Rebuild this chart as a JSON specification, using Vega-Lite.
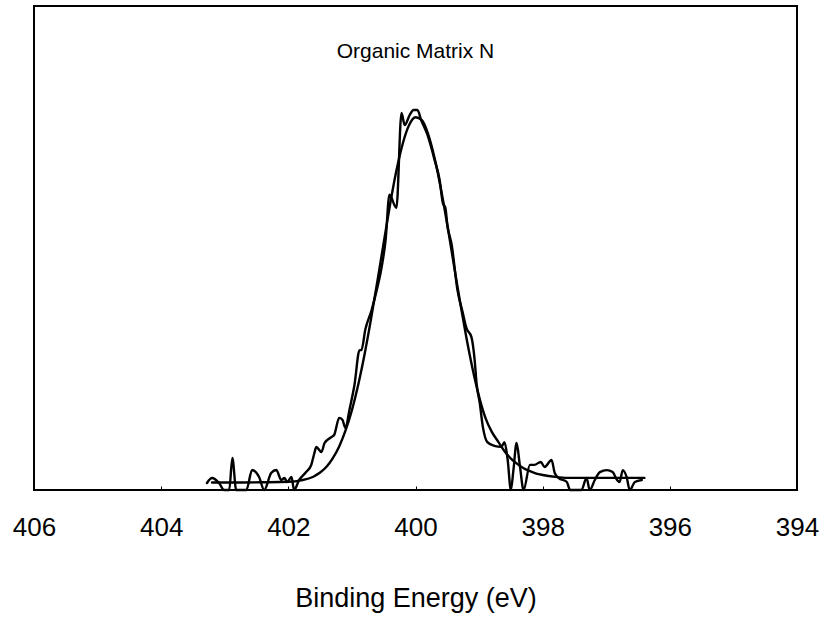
{
  "$schema": "https://vega.github.io/schema/vega-lite/v6.json",
  "width": 763,
  "height": 484,
  "autosize": {"type": "none"},
  "padding": {"left": 34, "top": 6, "right": 28, "bottom": 137},
  "background": "white",
  "config": {"view": {"stroke": "black", "strokeWidth": 2}, "font": "Liberation Sans"},
  "datasets": {
    "fit": [
      {"energy": 403.2, "intensity": 1.55}, {"energy": 402.8, "intensity": 1.55}, {"energy": 402.4, "intensity": 1.6},
      {"energy": 402.0, "intensity": 1.7}, {"energy": 401.8, "intensity": 2.0}, {"energy": 401.6, "intensity": 2.8},
      {"energy": 401.5, "intensity": 3.6}, {"energy": 401.4, "intensity": 4.8}, {"energy": 401.3, "intensity": 6.6},
      {"energy": 401.2, "intensity": 9.0}, {"energy": 401.1, "intensity": 12.3}, {"energy": 401.0, "intensity": 16.5},
      {"energy": 400.9, "intensity": 21.8}, {"energy": 400.8, "intensity": 28.1}, {"energy": 400.7, "intensity": 35.3},
      {"energy": 400.6, "intensity": 43.1}, {"energy": 400.5, "intensity": 51.1}, {"energy": 400.4, "intensity": 59.0},
      {"energy": 400.3, "intensity": 66.0}, {"energy": 400.2, "intensity": 71.6}, {"energy": 400.1, "intensity": 75.4},
      {"energy": 400.0, "intensity": 77.0}, {"energy": 399.9, "intensity": 76.4}, {"energy": 399.8, "intensity": 73.5},
      {"energy": 399.7, "intensity": 68.6}, {"energy": 399.6, "intensity": 62.2}, {"energy": 399.5, "intensity": 54.8},
      {"energy": 399.4, "intensity": 46.8}, {"energy": 399.3, "intensity": 38.9}, {"energy": 399.2, "intensity": 31.5},
      {"energy": 399.1, "intensity": 24.9}, {"energy": 399.0, "intensity": 19.3}, {"energy": 398.9, "intensity": 14.9},
      {"energy": 398.8, "intensity": 12.0}, {"energy": 398.7, "intensity": 10.0}, {"energy": 398.6, "intensity": 8.0},
      {"energy": 398.5, "intensity": 6.5}, {"energy": 398.4, "intensity": 5.4}, {"energy": 398.3, "intensity": 4.5},
      {"energy": 398.2, "intensity": 3.9}, {"energy": 398.1, "intensity": 3.4}, {"energy": 398.0, "intensity": 3.1},
      {"energy": 397.8, "intensity": 2.7}, {"energy": 397.6, "intensity": 2.5}, {"energy": 396.4, "intensity": 2.5}
    ],
    "measured": [
      {"energy": 403.28, "intensity": 1.45}, {"energy": 403.2, "intensity": 2.48}, {"energy": 403.09, "intensity": 1.45},
      {"energy": 403.01, "intensity": 0}, {"energy": 402.93, "intensity": 0}, {"energy": 402.88, "intensity": 6.6},
      {"energy": 402.82, "intensity": 0}, {"energy": 402.66, "intensity": 0}, {"energy": 402.57, "intensity": 4.13},
      {"energy": 402.46, "intensity": 2.69}, {"energy": 402.38, "intensity": 0}, {"energy": 402.27, "intensity": 3.5},
      {"energy": 402.19, "intensity": 4.13}, {"energy": 402.11, "intensity": 2.07}, {"energy": 402.06, "intensity": 2.48},
      {"energy": 402.02, "intensity": 1.65}, {"energy": 401.95, "intensity": 2.69}, {"energy": 401.91, "intensity": 0},
      {"energy": 401.83, "intensity": 2.07}, {"energy": 401.72, "intensity": 3.72}, {"energy": 401.64, "intensity": 5.17},
      {"energy": 401.59, "intensity": 7.64}, {"energy": 401.56, "intensity": 8.88}, {"energy": 401.48, "intensity": 7.85},
      {"energy": 401.43, "intensity": 9.71}, {"energy": 401.39, "intensity": 10.3}, {"energy": 401.32, "intensity": 10.95},
      {"energy": 401.28, "intensity": 11.36}, {"energy": 401.2, "intensity": 14.9}, {"energy": 401.15, "intensity": 14.5},
      {"energy": 401.1, "intensity": 12.8}, {"energy": 401.04, "intensity": 16.5}, {"energy": 400.96, "intensity": 21.7},
      {"energy": 400.88, "intensity": 28.9}, {"energy": 400.85, "intensity": 28.9}, {"energy": 400.79, "intensity": 33.1},
      {"energy": 400.69, "intensity": 37.2}, {"energy": 400.61, "intensity": 41.3}, {"energy": 400.54, "intensity": 45.5},
      {"energy": 400.47, "intensity": 51.7}, {"energy": 400.41, "intensity": 61.0}, {"energy": 400.3, "intensity": 58.3},
      {"energy": 400.22, "intensity": 77.9}, {"energy": 400.17, "intensity": 75.4}, {"energy": 400.09, "intensity": 77.5},
      {"energy": 400.03, "intensity": 78.5}, {"energy": 399.97, "intensity": 78.5}, {"energy": 399.91, "intensity": 76.4},
      {"energy": 399.81, "intensity": 73.3}, {"energy": 399.7, "intensity": 68.2}, {"energy": 399.62, "intensity": 64.0},
      {"energy": 399.57, "intensity": 59.3}, {"energy": 399.53, "intensity": 58.3}, {"energy": 399.5, "intensity": 54.8},
      {"energy": 399.43, "intensity": 50.6}, {"energy": 399.34, "intensity": 41.3}, {"energy": 399.26, "intensity": 36.8},
      {"energy": 399.2, "intensity": 33.5}, {"energy": 399.12, "intensity": 31.6}, {"energy": 399.07, "intensity": 26.9},
      {"energy": 399.04, "intensity": 22.1}, {"energy": 398.99, "intensity": 18.0}, {"energy": 398.94, "intensity": 13.0},
      {"energy": 398.87, "intensity": 9.9}, {"energy": 398.76, "intensity": 9.1}, {"energy": 398.65, "intensity": 8.9},
      {"energy": 398.6, "intensity": 9.9}, {"energy": 398.55, "intensity": 6.2}, {"energy": 398.5, "intensity": 0},
      {"energy": 398.46, "intensity": 4.1}, {"energy": 398.41, "intensity": 9.7}, {"energy": 398.36, "intensity": 5.2},
      {"energy": 398.3, "intensity": 0}, {"energy": 398.2, "intensity": 5.2}, {"energy": 398.13, "intensity": 5.2},
      {"energy": 398.03, "intensity": 5.8}, {"energy": 397.97, "intensity": 4.75}, {"energy": 397.86, "intensity": 6.2},
      {"energy": 397.81, "intensity": 3.5}, {"energy": 397.75, "intensity": 2.5}, {"energy": 397.62, "intensity": 1.65},
      {"energy": 397.57, "intensity": 0}, {"energy": 397.39, "intensity": 0}, {"energy": 397.31, "intensity": 2.5},
      {"energy": 397.26, "intensity": 0}, {"energy": 397.18, "intensity": 2.07}, {"energy": 397.1, "intensity": 3.7},
      {"energy": 396.99, "intensity": 4.1}, {"energy": 396.9, "intensity": 3.7}, {"energy": 396.83, "intensity": 2.07},
      {"energy": 396.79, "intensity": 1.65}, {"energy": 396.74, "intensity": 4.1}, {"energy": 396.68, "intensity": 2.7},
      {"energy": 396.63, "intensity": 0}, {"energy": 396.55, "intensity": 1.65}, {"energy": 396.44, "intensity": 2.07}
    ],
    "label": [{"energy": 400.0, "intensity": 90.5, "text": "Organic Matrix N"}]
  },
  "layer": [
    {
      "data": {"name": "fit"},
      "mark": {"type": "line", "color": "black", "strokeWidth": 2.4, "interpolate": "monotone", "strokeJoin": "round", "strokeCap": "round"},
      "encoding": {
        "x": {
          "field": "energy", "type": "quantitative",
          "scale": {"domain": [394, 406], "reverse": true, "nice": false, "zero": false},
          "axis": {
            "values": [394, 396, 398, 400, 402, 404, 406], "format": "d",
            "title": "Binding Energy (eV)", "domain": false, "grid": false,
            "ticks": true, "tickSize": -4, "tickColor": "black", "tickWidth": 1,
            "labelFont": "Liberation Sans", "labelFontSize": 26, "labelColor": "black",
            "labelPadding": 28, "labelFlush": false, "labelOverlap": false,
            "titleFont": "Liberation Sans", "titleFontSize": 27, "titleFontWeight": "normal",
            "titleColor": "black", "titlePadding": 45
          }
        },
        "y": {"field": "intensity", "type": "quantitative", "scale": {"domain": [0, 100]}, "axis": null}
      }
    },
    {
      "data": {"name": "measured"},
      "mark": {"type": "line", "color": "black", "strokeWidth": 2.4, "interpolate": "monotone", "strokeJoin": "round", "strokeCap": "round"},
      "encoding": {
        "x": {"field": "energy", "type": "quantitative"},
        "y": {"field": "intensity", "type": "quantitative"}
      }
    },
    {
      "data": {"name": "label"},
      "mark": {"type": "text", "font": "Liberation Sans", "fontSize": 21, "color": "black", "baseline": "middle", "align": "center"},
      "encoding": {
        "x": {"field": "energy", "type": "quantitative"},
        "y": {"field": "intensity", "type": "quantitative"},
        "text": {"field": "text"}
      }
    }
  ]
}
